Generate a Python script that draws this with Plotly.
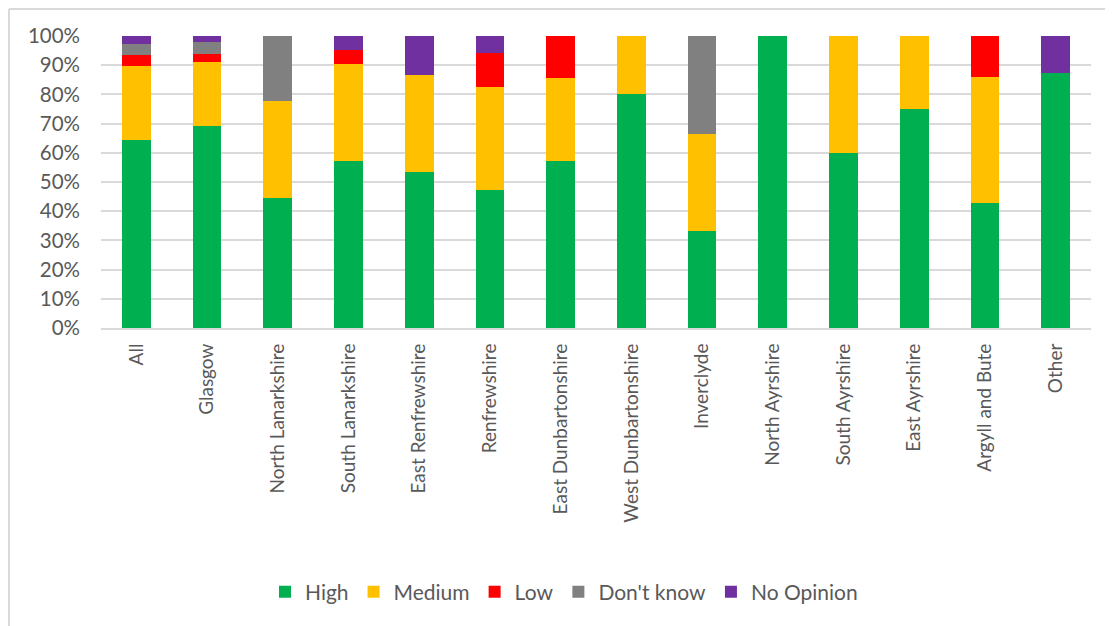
import plotly.graph_objects as go

categories = ["All", "Glasgow", "North Lanarkshire", "South Lanarkshire", "East Renfrewshire",
              "Renfrewshire", "East Dunbartonshire", "West Dunbartonshire", "Inverclyde",
              "North Ayrshire", "South Ayrshire", "East Ayrshire", "Argyll and Bute", "Other"]

high = [64.4, 69.3, 44.4, 57.1, 53.3, 47.1, 57.1, 80.0, 33.3, 100.0, 60.0, 75.0, 42.9, 87.5]
medium = [25.3, 21.8, 33.3, 33.3, 33.3, 35.3, 28.6, 20.0, 33.3, 0.0, 40.0, 25.0, 42.9, 0.0]
low = [3.9, 2.8, 0.0, 4.8, 0.0, 11.8, 14.3, 0.0, 0.0, 0.0, 0.0, 0.0, 14.3, 0.0]
dont_know = [3.6, 4.0, 22.2, 0.0, 0.0, 0.0, 0.0, 0.0, 33.3, 0.0, 0.0, 0.0, 0.0, 0.0]
no_opinion = [2.8, 2.1, 0.0, 4.8, 13.3, 5.9, 0.0, 0.0, 0.0, 0.0, 0.0, 0.0, 0.0, 12.5]

series = [("High", high, "#00B050"), ("Medium", medium, "#FFC000"), ("Low", low, "#FF0000"),
          ("Don't know", dont_know, "#808080"), ("No Opinion", no_opinion, "#7030A0")]

fig = go.Figure()
for name, vals, col in series:
    fig.add_trace(go.Bar(x=categories, y=[v / 100 for v in vals], name=name,
                         marker=dict(color=col, line=dict(width=0))))

W, H = 1105, 618
L, R, T, B = 93, 22, 28, 298
PW, PH = W - L - R, H - T - B

font = "Lato, Calibri, Carlito, sans-serif"
fig.update_layout(
    barmode="stack",
    bargap=0.595,
    width=W, height=H,
    margin=dict(l=L, r=R, t=T, b=B),
    plot_bgcolor="white", paper_bgcolor="white",
    font=dict(family=font, size=19, color="#595959"),
    showlegend=True,
    legend=dict(orientation="h", x=(564 - 8 - L) / PW, xanchor="center",
                y=-(592 - 8 - (H - B)) / PH, yanchor="middle",
                font=dict(size=21, color="#595959"), traceorder="normal", itemwidth=30),
    xaxis=dict(tickangle=-90, showgrid=False, showline=True, linecolor="#D9D9D9", linewidth=2,
               ticks="", ticklabelstandoff=6, tickfont=dict(size=19)),
    yaxis=dict(range=[0, 1], tickformat=".0%", dtick=0.1, showgrid=True, gridcolor="#D9D9D9",
               gridwidth=2, zeroline=False, showline=False, ticks="", ticklabelstandoff=20,
               tickfont=dict(size=20.5)),
    shapes=[
        dict(type="line", xref="paper", yref="paper", x0=(1 - L) / PW, x1=(1 - L) / PW,
             y0=-B / PH, y1=(H - B - 1) / PH, line=dict(color="#D9D9D9", width=2)),
        dict(type="line", xref="paper", yref="paper", x0=(1 - L) / PW, x1=(W - L) / PW,
             y0=(H - B - 1) / PH, y1=(H - B - 1) / PH, line=dict(color="#D9D9D9", width=2)),
    ],
)

fig.write_html("out.html")
